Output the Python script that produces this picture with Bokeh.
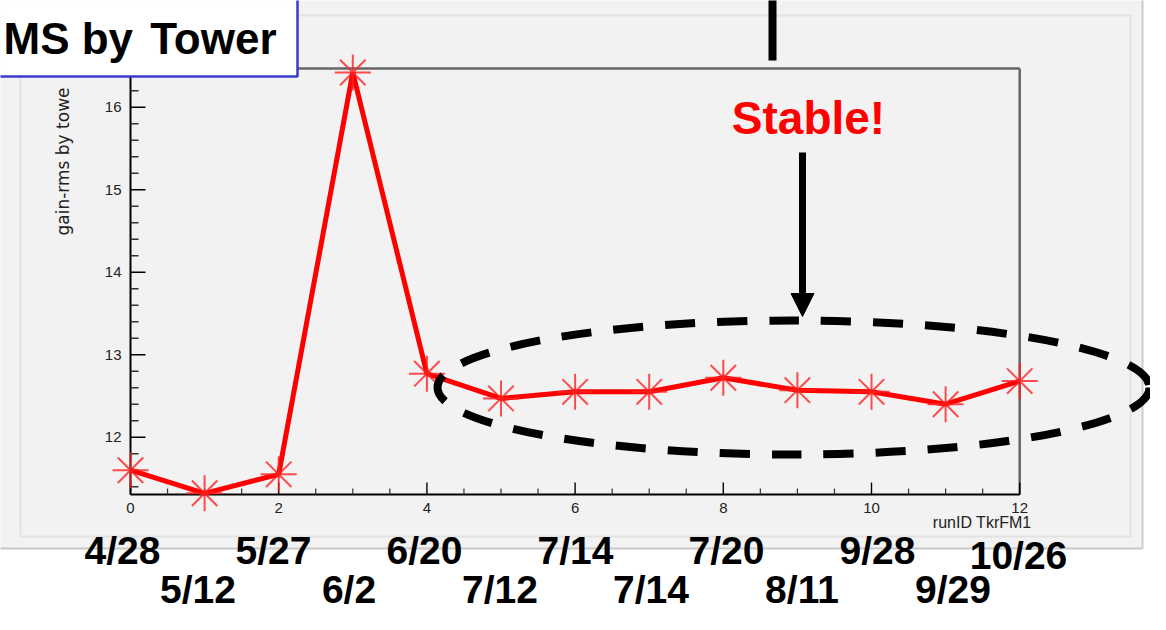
import numpy as np
from bokeh.plotting import figure
from bokeh.models import Range1d, Arrow, NormalHead
from bokeh.embed import file_html
from bokeh.resources import INLINE
from bokeh.core.properties import value

# ---------------- data ----------------
runs = list(range(13))
gain_rms = [11.60, 11.32, 11.55, 16.42, 12.77, 12.47, 12.55, 12.55, 12.72, 12.57, 12.55, 12.40, 12.68]
run_dates = ["4/28", "5/12", "5/27", "6/2", "6/20", "7/12", "7/14", "7/14",
             "7/20", "8/11", "9/28", "9/29", "10/26"]
x_major = [0, 2, 4, 6, 8, 10, 12]
x_major_labels = ["0", "2", "4", "6", "8", "10", "12"]
y_major = [12, 13, 14, 15, 16]
y_major_labels = ["12", "13", "14", "15", "16"]
title_left = "MS by"
title_right = "Tower"
y_title = "gain-rms by towe"
x_title = "runID TkrFM1"
note_text = "Stable!"

X_MIN, X_MAX = 0.0, 12.0
Y_MIN, Y_MAX = 11.305, 16.47

# ------------- layout calibration (reference pixels -> data) -------------
PX0, PXU = 130.0, 74.1     # pixel of x=0, pixels per x unit
PY12, PYU = 436.7, 82.5    # pixel of y=12, pixels per y unit
W, H = 1150, 614


def dx(px):
    return (px - PX0) / PXU


def dy(py):
    return 12.0 + (PY12 - py) / PYU


p = figure(width=W, height=H,
           x_range=Range1d(dx(0), dx(W)), y_range=Range1d(dy(H), dy(0)),
           x_axis_type=None, y_axis_type=None, min_border=0,
           toolbar_location=None, output_backend="svg",
           background_fill_color="white", border_fill_color="white",
           outline_line_color=None)
p.grid.visible = False

# ROOT canvas background with bevel
p.quad(left=dx(-30), right=dx(1142), top=dy(-30), bottom=dy(548),
       fill_color="#f2f2f2", line_color=None)
p.quad(left=dx(20), right=dx(1130), top=dy(15), bottom=dy(536),
       fill_color=None, line_color="#e2e2e2", line_width=2)
p.segment(x0=[dx(1142)], y0=[dy(-10)], x1=[dx(1142)], y1=[dy(548)],
          line_color="#cccccc", line_width=2)
p.segment(x0=[dx(-10)], y0=[dy(548)], x1=[dx(1142)], y1=[dy(548)],
          line_color="#c8c8c8", line_width=2)

# plot frame
p.quad(left=X_MIN, right=X_MAX, bottom=Y_MIN, top=Y_MAX,
       fill_color="#f2f2f2", line_color=None)
p.segment(x0=[X_MIN, X_MAX], y0=[Y_MAX, Y_MIN], x1=[X_MAX, X_MAX], y1=[Y_MAX, Y_MAX],
          line_color="#666666", line_width=2.5)
p.segment(x0=[X_MIN, X_MIN], y0=[Y_MIN, Y_MIN], x1=[X_MIN, X_MAX], y1=[Y_MAX, Y_MIN],
          line_color="black", line_width=2)

# y ticks (inside)
y_minor = [v for v in np.round(np.arange(11.4, 16.45, 0.2), 2) if abs(v - round(v)) > 1e-6]
p.segment(x0=[X_MIN] * len(y_major), y0=y_major,
          x1=[X_MIN + 15 / PXU] * len(y_major), y1=y_major,
          line_color="black", line_width=1.6)
p.segment(x0=[X_MIN] * len(y_minor), y0=y_minor,
          x1=[X_MIN + 8 / PXU] * len(y_minor), y1=y_minor,
          line_color="#333333", line_width=1.4)

# x ticks (inside)
x_minor = [v for v in np.arange(0.5, 12, 0.5) if v not in x_major]
p.segment(x0=x_major, y0=[Y_MIN] * len(x_major),
          x1=x_major, y1=[Y_MIN + 12 / PYU] * len(x_major),
          line_color="black", line_width=1.4)
p.segment(x0=x_minor, y0=[Y_MIN] * len(x_minor),
          x1=x_minor, y1=[Y_MIN + 6 / PYU] * len(x_minor),
          line_color="#333333", line_width=1.2)

# tick labels
p.text(x=[dx(121)] * len(y_major), y=y_major, text=y_major_labels,
       text_font=value("Liberation Sans"), text_font_size="15px",
       text_color="#222222", text_align="right", text_baseline="middle")
p.text(x=x_major, y=[dy(507)] * len(x_major), text=x_major_labels,
       text_font=value("Liberation Sans"), text_font_size="15px",
       text_color="#222222", text_align="center", text_baseline="middle")

# axis titles
p.text(x=[dx(62)], y=[dy(161)], text=[y_title], angle=np.pi / 2,
       text_font=value("DejaVu Sans"), text_font_size="17px",
       text_color="#222222", text_align="center", text_baseline="middle")
p.text(x=[dx(1031)], y=[dy(522)], text=[x_title],
       text_font=value("Liberation Sans"), text_font_size="16px",
       text_color="#222222", text_align="right", text_baseline="middle")

# data
p.line(runs, gain_rms, line_color="#ff0000", line_width=5)
p.scatter(runs, gain_rms, marker="asterisk", size=36,
          line_color="#ff2020", line_width=2, line_alpha=0.8)

# dashed ellipse highlighting the stable region
p.ellipse(x=[dx(793)], y=[dy(387)], width=[712], height=[134],
          width_units="screen", height_units="screen",
          fill_color=None, line_color="black", line_width=8, line_dash="30 22")

# arrows / bars
p.segment(x0=[dx(772)], y0=[dy(-10)], x1=[dx(772)], y1=[dy(60)],
          line_color="black", line_width=8)
p.add_layout(Arrow(x_start=dx(802), y_start=dy(152), x_end=dx(802), y_end=dy(316),
                   line_color="black", line_width=7,
                   end=NormalHead(size=23, fill_color="black", line_color="black")))

# annotation text
p.text(x=[dx(808)], y=[dy(117)], text=[note_text],
       text_font=value("Liberation Sans"), text_font_style="bold",
       text_font_size="46px", text_color="#ff0000",
       text_align="center", text_baseline="middle")

# run dates below the axis (two staggered rows, evenly spaced labels)
DATE_STEP = 75.5 / PXU
date_x = [dx(122) + i * DATE_STEP for i in runs]
date_x[-1] = dx(1018)
date_y = [dy(550) if i % 2 == 0 else dy(589) for i in runs]
date_y[-1] = dy(555)
p.text(x=date_x, y=date_y, text=run_dates,
       text_font=value("Liberation Sans"), text_font_style="bold",
       text_font_size="39px", text_color="black",
       text_align="center", text_baseline="middle")

# title box
p.quad(left=dx(-30), right=dx(297), top=dy(-30), bottom=dy(76),
       fill_color="white", line_color="#3b3bcc", line_width=2.5)
p.text(x=[dx(3)], y=[dy(38)], text=[title_left],
       text_font=value("Liberation Sans"), text_font_style="bold",
       text_font_size="44px", text_color="black",
       text_align="left", text_baseline="middle")
p.text(x=[dx(276)], y=[dy(38)], text=[title_right],
       text_font=value("Liberation Sans"), text_font_style="bold",
       text_font_size="44px", text_color="black",
       text_align="right", text_baseline="middle")

open("out.html", "w").write(file_html(p, INLINE))
